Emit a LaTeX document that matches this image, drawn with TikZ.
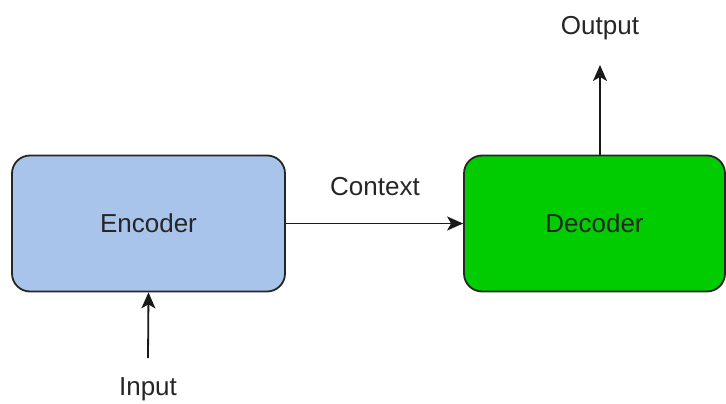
\documentclass[tikz,border=0pt]{standalone}
\usepackage{fontspec}
\setmainfont{Liberation Sans}
\usetikzlibrary{arrows.meta}
\definecolor{encfill}{HTML}{A9C4EB}
\definecolor{decfill}{HTML}{00CC00}
\definecolor{txt}{HTML}{262626}
\begin{document}
\begin{tikzpicture}[x=1pt,y=-1pt,
  block/.style={draw=black!85,line width=1.8pt,rounded corners=18pt,inner sep=0pt},
  lbl/.style={text=txt,font=\fontsize{26}{31}\selectfont,inner sep=0pt},
  conn/.style={line width=1.8pt,draw=black!90,-{Stealth[length=16pt,width=14pt,inset=4pt]}}]
  \useasboundingbox (0,0) rectangle (726,404);
  \path[fill=white] (0,0) rectangle (726,404);
  % blocks
  \node[block,fill=encfill,minimum width=273pt,minimum height=136pt] (enc) at (148.5,223.5) {};
  \node[lbl] at (enc.center) {Encoder};
  \node[block,fill=decfill,minimum width=261pt,minimum height=136pt] (dec) at (594.5,223.5) {};
  \node[lbl] at (dec.center) {Decoder};
  % free labels
  \node[lbl] (inp) at (148,389) {Input};
  \node[lbl] (out) at (600,28) {Output};
  \node[lbl] (ctx) at (375,187) {Context};
  % connectors
  \coordinate (inpend) at (148,358);
  \coordinate (outend) at (600,65);
  \draw[conn] (inpend) -- (enc.south);
  \draw[conn] (enc.east) -- (dec.west);
  \draw[conn] (dec.north -| outend) -- (outend);
\end{tikzpicture}
\end{document}
